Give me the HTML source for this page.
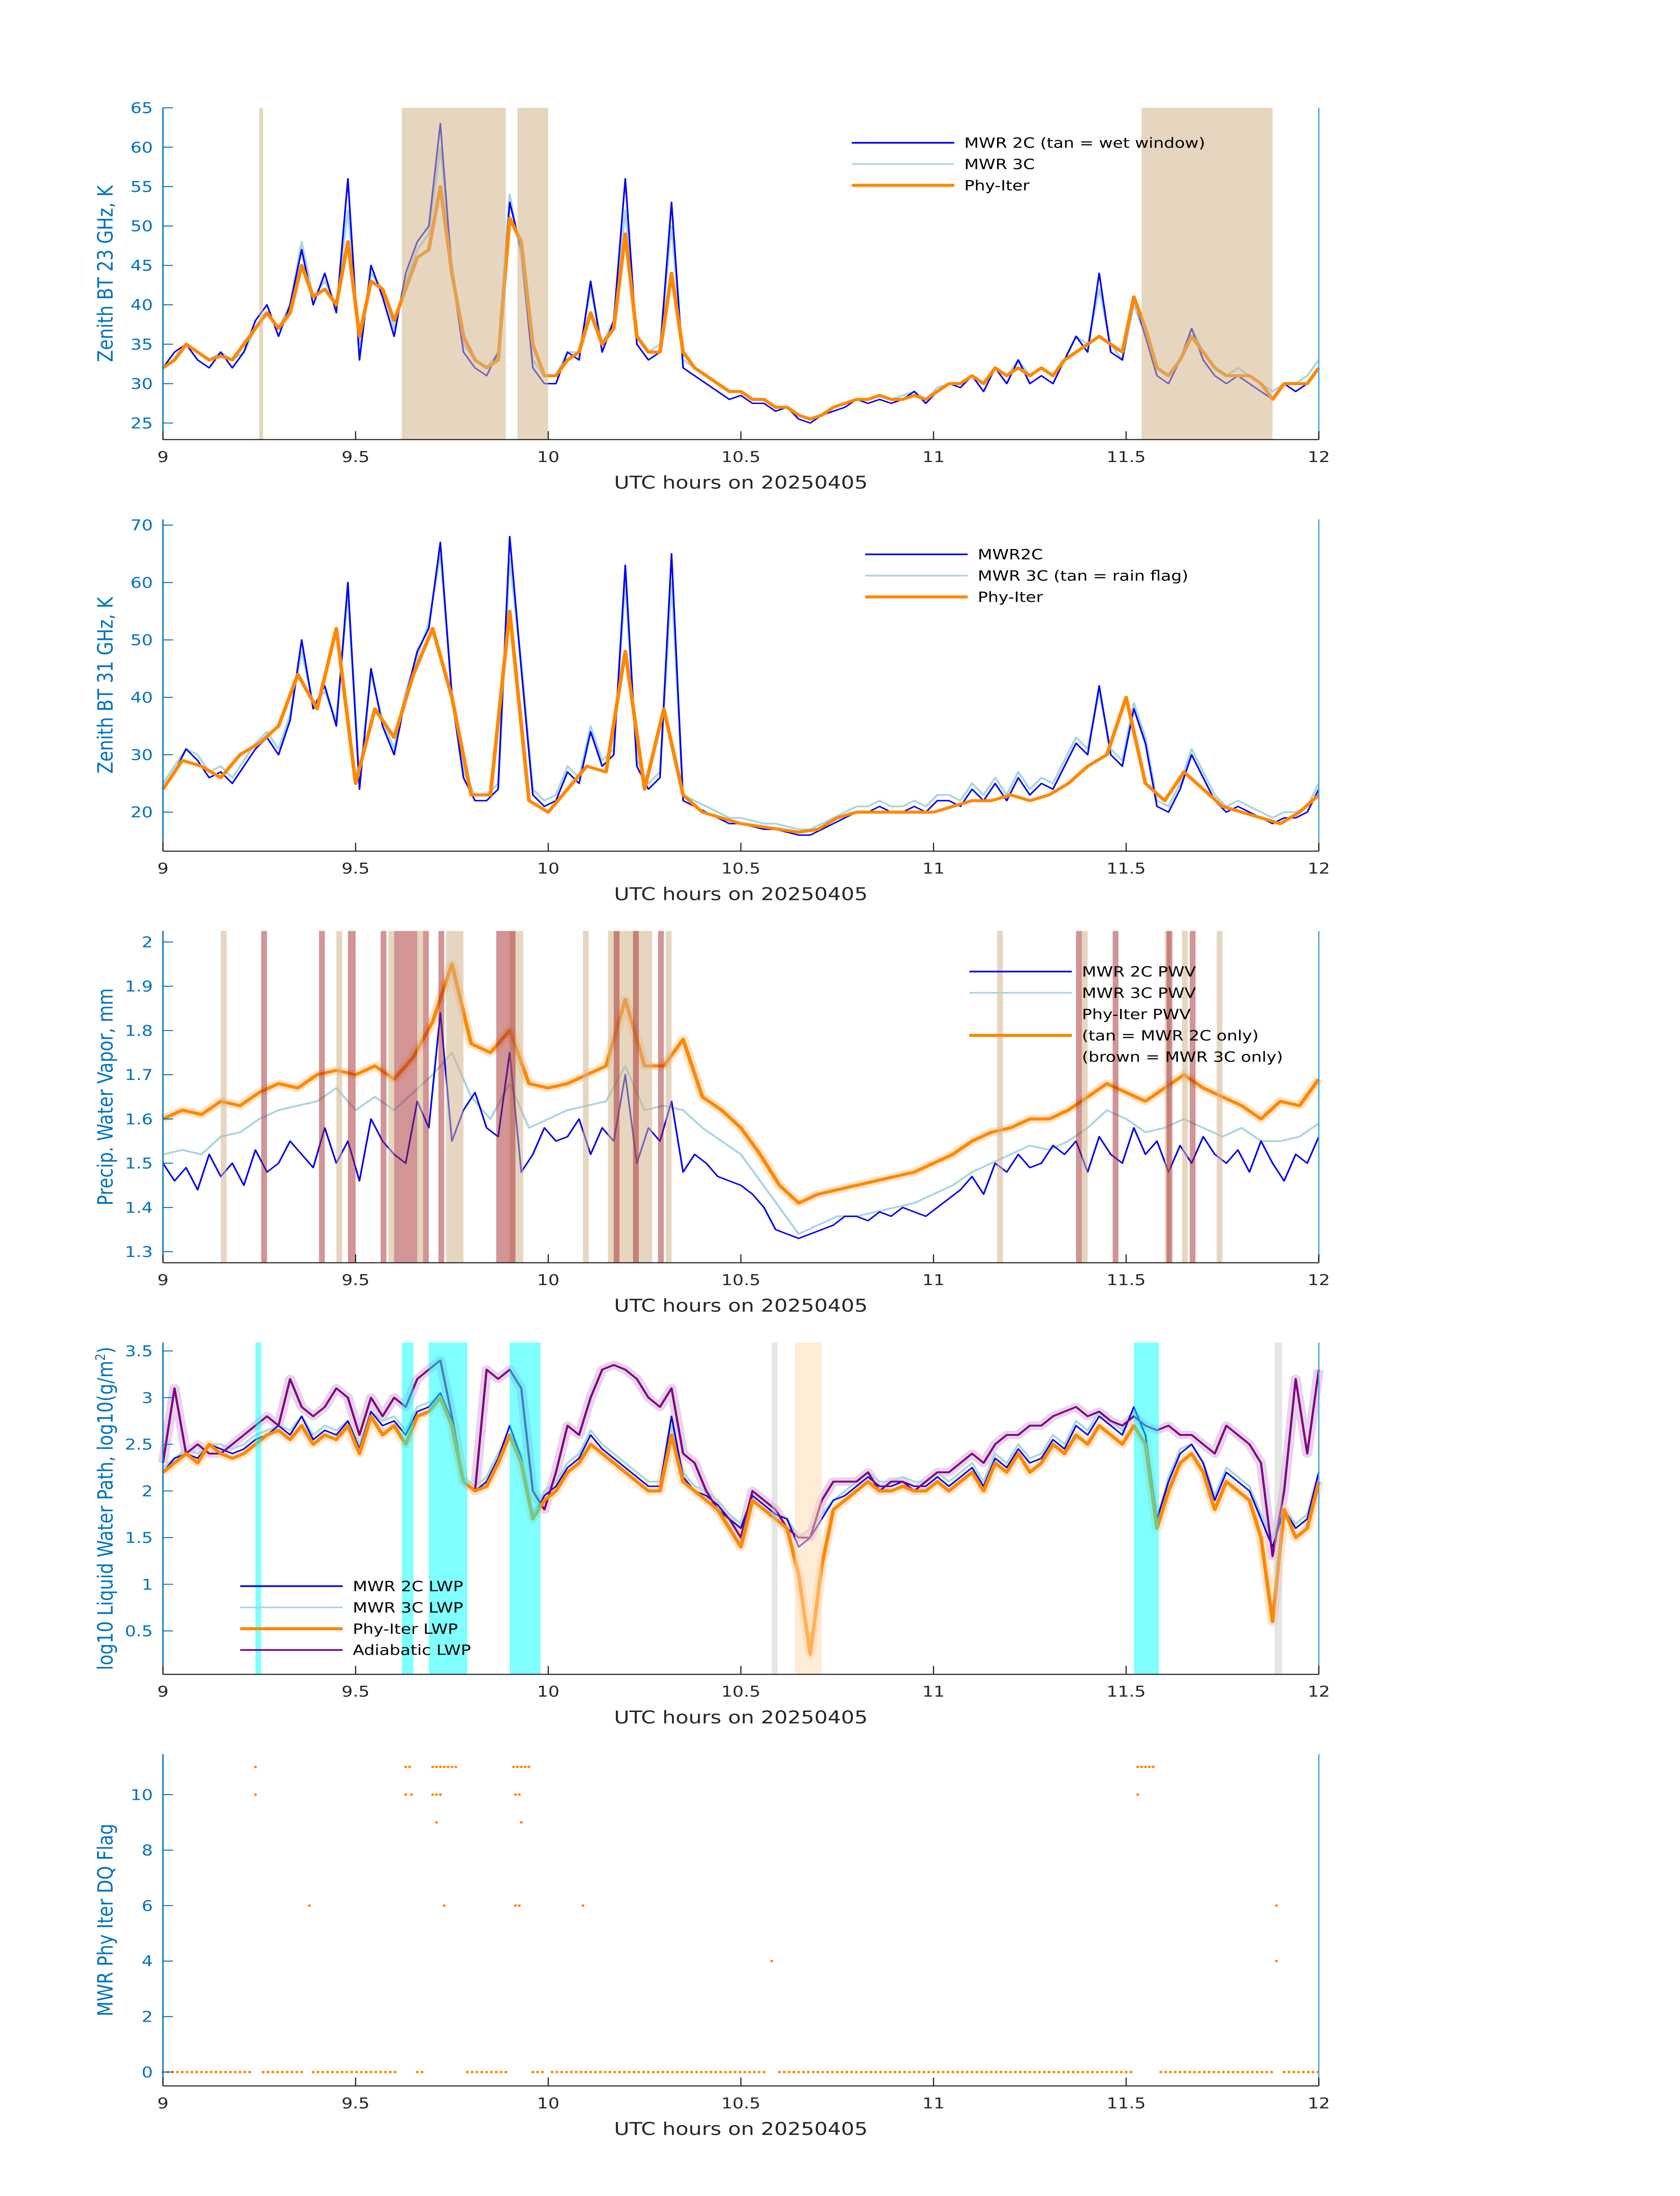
<!DOCTYPE html>
<html><head><meta charset="utf-8"><style>
html,body{margin:0;padding:0;background:#fff;width:100vw;height:100vh;overflow:hidden}
svg{display:block;width:100vw;height:100vh}
text{font-family:"DejaVu Sans","Liberation Sans",sans-serif}
</style></head><body>
<svg id="fig" xmlns="http://www.w3.org/2000/svg" viewBox="0 0 1000 1568.63" preserveAspectRatio="none"></svg>
<script>
// ---------- data ----------
const xTicks=[9,9.5,10,10.5,11,11.5,12];
const xTickLabels=["9","9.5","10","10.5","11","11.5","12"];
// panel 1: BT 23 GHz
const bt23_2c=[32,34,35,33,32,34,32,34,38,40,36,40,47,40,44,39,56,33,45,41,36,44,48,50,63,44,34,32,31,34,53,47,32,30,30,34,33,43,34,38,56,35,33,34,53,32,31,30,29,28,28.5,27.5,27.5,26.5,27,25.5,25,26,26.5,27,28,27.5,28,27.5,28,29,27.5,29,30,29.5,31,29,32,30,33,30,31,30,33,36,34,44,34,33,41,36,31,30,33,37,33,31,30,31,30,29,28,30,29,30,32];
const bt23_3c=[32,33,35,34,33,34,33,34,37,39,37,40,48,41,43,40,52,35,44,42,37,43,47,49,60,45,35,33,32,34,54,46,33,31,31,34,34,42,35,38,52,36,34,35,50,33,32,31,30,29,29,28,28,27,27,26,25.5,26,27,27.5,28,28,28.5,28,28.5,29,28,29.5,30,30,31,30,32,31,33,31,32,31,33,36,35,42,35,33,40,36,32,31,33,37,34,32,31,32,31,30,29,30,30,31,33];
const bt23_phy=[32,33,35,34,33,33.5,33,35,37,39,37,39,45,41,42,40,48,36,43,42,38,42,46,47,55,44,36,33,32,33,51,48,35,31,31,33,34,39,35,37,49,36,34,34,44,34,32,31,30,29,29,28,28,27,27,26,25.5,26,27,27.5,28,28,28.5,28,28,28.5,28,29,30,30,31,30,32,31,32,31,32,31,33,34,35,36,35,34,41,37,32,31,33,36,34,32,31,31,31,30,28,30,30,30,32];
const bt23_wet=[[9.25,9.26],[9.62,9.89],[9.92,10.0],[11.54,11.88]];
const bt23_yTicks=[25,30,35,40,45,50,55,60,65];
// panel 2: BT 31 GHz
const bt31_2c=[24,27,31,29,26,27,25,28,31,33,30,36,50,38,42,35,60,24,45,35,30,40,48,52,67,40,26,22,22,24,68,45,23,21,22,27,25,34,28,30,63,28,24,26,65,22,21,20,19,18,18,17.5,17,17,16.5,16,16,17,18,19,20,20,21,20,20,21,20,22,22,21,24,22,25,22,26,23,25,24,28,32,30,42,30,28,38,32,21,20,24,30,26,22,20,21,20,19,18,19,19,20,24];
const bt31_3c=[25,28,31,30,27,28,26,29,32,34,31,37,48,39,41,36,58,26,44,36,31,41,47,53,65,41,27,23,23,25,64,46,24,22,23,28,26,35,29,31,60,29,25,27,60,23,22,21,20,19,19,18.5,18,18,17.5,17,17,18,19,20,21,21,22,21,21,22,21,23,23,22,25,23,26,23,27,24,26,25,29,33,31,41,31,29,39,33,22,21,25,31,27,23,21,22,21,20,19,20,20,21,25];
const bt31_phy=[24,29,28,26,30,32,35,44,38,52,25,38,33,44,52,40,23,23,55,22,20,24,28,27,48,24,38,23,20,19,18,17.5,17,16.5,17,19,20,20,20,20,20,21,22,22,23,22,23,25,28,30,40,25,22,27,24,21,20,19,18,20,23];
const bt31_yTicks=[20,30,40,50,60,70];
// panel 3: PWV
const pwv_2c=[1.50,1.46,1.49,1.44,1.52,1.47,1.50,1.45,1.53,1.48,1.50,1.55,1.52,1.49,1.58,1.50,1.55,1.46,1.60,1.55,1.52,1.50,1.64,1.58,1.84,1.55,1.62,1.66,1.58,1.56,1.75,1.48,1.52,1.58,1.55,1.56,1.60,1.52,1.58,1.55,1.70,1.50,1.58,1.55,1.64,1.48,1.52,1.50,1.47,1.46,1.45,1.43,1.40,1.35,1.34,1.33,1.34,1.35,1.36,1.38,1.38,1.37,1.39,1.38,1.40,1.39,1.38,1.40,1.42,1.44,1.47,1.43,1.50,1.48,1.52,1.49,1.50,1.54,1.52,1.55,1.48,1.56,1.52,1.50,1.58,1.52,1.55,1.48,1.54,1.50,1.56,1.52,1.50,1.53,1.48,1.55,1.50,1.46,1.52,1.50,1.56];
const pwv_3c=[1.52,1.53,1.52,1.56,1.57,1.60,1.62,1.63,1.64,1.67,1.62,1.65,1.62,1.66,1.70,1.75,1.65,1.60,1.68,1.58,1.60,1.62,1.63,1.64,1.72,1.62,1.63,1.62,1.58,1.55,1.52,1.46,1.40,1.34,1.36,1.38,1.38,1.39,1.40,1.41,1.43,1.45,1.48,1.50,1.52,1.54,1.53,1.55,1.58,1.62,1.60,1.57,1.58,1.60,1.58,1.56,1.58,1.55,1.55,1.56,1.59];
const pwv_phy=[1.60,1.62,1.61,1.64,1.63,1.66,1.68,1.67,1.70,1.71,1.70,1.72,1.69,1.74,1.82,1.95,1.77,1.75,1.80,1.68,1.67,1.68,1.70,1.72,1.87,1.72,1.72,1.78,1.65,1.62,1.58,1.52,1.45,1.41,1.43,1.44,1.45,1.46,1.47,1.48,1.50,1.52,1.55,1.57,1.58,1.60,1.60,1.62,1.65,1.68,1.66,1.64,1.67,1.70,1.67,1.65,1.63,1.60,1.64,1.63,1.69];
const pwv_tan=[[9.15,9.165],[9.45,9.465],[9.585,9.6],[9.66,9.675],[9.735,9.78],[9.9,9.935],[10.09,10.105],[10.155,10.27],[10.305,10.32],[11.165,11.18],[11.385,11.4],[11.6,11.615],[11.645,11.66],[11.735,11.75]];
const pwv_brown=[[9.255,9.27],[9.405,9.42],[9.48,9.5],[9.565,9.58],[9.6,9.66],[9.675,9.69],[9.715,9.73],[9.865,9.915],[10.17,10.185],[10.22,10.235],[10.285,10.3],[11.37,11.385],[11.465,11.48],[11.605,11.62],[11.665,11.68]];
const pwv_yTicks=[1.3,1.4,1.5,1.6,1.7,1.8,1.9,2];
// panel 4: LWP
const lwp_2c=[2.2,2.35,2.4,2.35,2.5,2.45,2.4,2.45,2.55,2.6,2.7,2.6,2.8,2.55,2.65,2.6,2.75,2.45,2.85,2.7,2.75,2.6,2.85,2.9,3.05,2.75,2.1,2.0,2.1,2.35,2.7,2.35,1.7,1.95,2.05,2.25,2.35,2.6,2.45,2.35,2.25,2.15,2.05,2.05,2.8,2.15,2.0,1.95,1.85,1.7,1.6,1.95,1.85,1.75,1.7,1.4,1.5,1.7,1.9,1.95,2.05,2.15,2.05,2.05,2.1,2.05,2.05,2.15,2.05,2.15,2.25,2.05,2.35,2.25,2.45,2.3,2.35,2.55,2.45,2.7,2.6,2.8,2.7,2.6,2.9,2.6,1.7,2.1,2.4,2.5,2.3,1.9,2.2,2.1,2.0,1.7,1.4,1.8,1.6,1.7,2.2];
const lwp_3c=[2.25,2.35,2.45,2.4,2.5,2.5,2.45,2.5,2.6,2.65,2.7,2.65,2.8,2.6,2.7,2.65,2.75,2.5,2.85,2.75,2.8,2.65,2.9,2.95,3.0,2.7,2.15,2.05,2.15,2.4,2.6,2.4,1.75,2.0,2.1,2.3,2.4,2.65,2.5,2.4,2.3,2.2,2.1,2.1,2.7,2.2,2.05,2.0,1.9,1.75,1.65,1.9,1.8,1.75,1.7,1.5,1.6,1.75,1.9,2.0,2.1,2.2,2.1,2.1,2.15,2.1,2.1,2.2,2.1,2.2,2.3,2.1,2.4,2.3,2.5,2.35,2.4,2.6,2.5,2.75,2.65,2.85,2.75,2.65,2.85,2.6,1.65,2.15,2.45,2.5,2.3,1.95,2.25,2.15,2.05,1.75,1.5,1.8,1.65,1.75,2.2];
const lwp_phy=[2.2,2.3,2.4,2.3,2.5,2.4,2.35,2.4,2.5,2.6,2.65,2.55,2.7,2.5,2.6,2.55,2.7,2.4,2.8,2.6,2.7,2.5,2.8,2.85,3.0,2.7,2.1,2.0,2.05,2.3,2.6,2.3,1.7,1.9,2.0,2.2,2.3,2.5,2.4,2.3,2.2,2.1,2.0,2.0,2.6,2.1,2.0,1.9,1.8,1.6,1.4,1.9,1.8,1.7,1.6,1.1,0.25,1.2,1.8,1.9,2.0,2.1,2.0,2.0,2.05,2.0,2.0,2.1,2.0,2.1,2.2,2.0,2.3,2.2,2.4,2.2,2.3,2.5,2.4,2.6,2.5,2.7,2.6,2.5,2.7,2.5,1.6,2.0,2.3,2.4,2.2,1.8,2.1,2.0,1.9,1.5,0.6,1.8,1.5,1.6,2.1];
const lwp_adi=[2.3,3.1,2.4,2.5,2.4,2.4,2.5,2.6,2.7,2.8,2.7,3.2,2.9,2.8,2.9,3.1,3.0,2.6,3.0,2.8,3.0,2.9,3.2,3.3,3.4,2.8,2.1,2.0,3.3,3.2,3.3,3.1,2.0,1.8,2.2,2.7,2.6,3.0,3.3,3.35,3.3,3.2,3.0,2.9,3.1,2.4,2.3,2.0,1.8,1.7,1.5,2.0,1.9,1.8,1.6,1.5,1.5,1.9,2.1,2.1,2.1,2.2,2.0,2.1,2.1,2.0,2.1,2.2,2.2,2.3,2.4,2.3,2.5,2.6,2.6,2.7,2.7,2.8,2.85,2.9,2.8,2.85,2.75,2.7,2.8,2.7,2.65,2.7,2.6,2.6,2.5,2.4,2.7,2.6,2.5,2.3,1.3,2.0,3.2,2.4,3.3];
const lwp_cyan=[[9.24,9.255],[9.62,9.65],[9.69,9.79],[9.9,9.98],[11.52,11.585]];
const lwp_gray=[[10.58,10.595],[11.885,11.905]];
const lwp_tan=[[10.64,10.71]];
const lwp_yTicks=[0.5,1,1.5,2,2.5,3,3.5];
// panel 5: DQ flag
const flagT=[9.24,9.24,9.38,9.63,9.64,9.63,9.645,9.70,9.71,9.72,9.73,9.74,9.75,9.76,9.70,9.71,9.72,9.71,9.73,9.91,9.92,9.93,9.94,9.95,9.915,9.925,9.93,9.915,9.925,10.09,10.58,11.53,11.54,11.55,11.56,11.57,11.53,11.89,11.89];
const flagV=[11,10,6,11,11,10,10,11,11,11,11,11,11,11,10,10,10,9,6,11,11,11,11,11,10,10,9,6,6,6,4,11,11,11,11,11,10,6,4];
const flagZeroSegments=[[9.0,9.23],[9.26,9.37],[9.39,9.61],[9.66,9.68],[9.79,9.89],[9.96,9.99],[10.01,10.57],[10.6,11.52],[11.59,11.88],[11.91,12.0]];
const flag_yTicks=[0,2,4,6,8,10];

// ---------- drawing ----------
const NS="http://www.w3.org/2000/svg";
const svg=document.getElementById('fig');
const X0=97,X1=785,PH=237;
function el(tag,attrs,parent){const e=document.createElementNS(NS,tag);for(const k in attrs)e.setAttribute(k,attrs[k]);(parent||svg).appendChild(e);return e;}
function xs(t){return X0+(t-9)/3*(X1-X0);}
function makeY(top,ymin,ymax){return v=>top+PH-(v-ymin)/(ymax-ymin)*PH;}
function tArr(n){const a=[];for(let i=0;i<n;i++)a.push(9+3*i/(n-1));return a;}
function pathOf(arr,ys){const t=tArr(arr.length);return arr.map((v,i)=>(i?'L':'M')+xs(t[i]).toFixed(2)+' '+ys(v).toFixed(2)).join('');}

function line(g,arr,ys,color,w,name,op){
  const p=el('path',{d:pathOf(arr,ys),fill:'none',stroke:color,'stroke-width':w,'stroke-linejoin':'round','stroke-opacity':op||1},g);
  
  
  return p;
}
function bands(g,list,top,color,op,name){
  list.forEach(b=>{
    const r=el('rect',{x:xs(b[0]),y:top,width:Math.max(1.2,xs(b[1])-xs(b[0])),height:PH,fill:color,'fill-opacity':op},g);
    
    
  });
}
function axes(g,top,ys,yTicks,yFmt,ylabel,pname){
  const ax=el('g',{},g);
  
  
  el('line',{x1:X0,y1:top+PH,x2:X1,y2:top+PH,stroke:'#262626','stroke-width':0.8},ax);
  el('line',{x1:X0,y1:top,x2:X0,y2:top+PH,stroke:'#0072BD','stroke-width':0.8},ax);
  el('line',{x1:X1,y1:top,x2:X1,y2:top+PH,stroke:'#4DA6E0','stroke-width':0.8},ax);
  xTicks.forEach((t,i)=>{
    el('line',{x1:xs(t),y1:top+PH,x2:xs(t),y2:top+PH-6,stroke:'#262626','stroke-width':0.7},ax);
    const tx=el('text',{x:xs(t),y:top+PH+16,'font-size':10.5,'text-anchor':'middle',fill:'#262626'},ax);
    tx.textContent=xTickLabels[i];
    
    
  });
  yTicks.forEach(v=>{
    el('line',{x1:X0,y1:ys(v),x2:X0+6,y2:ys(v),stroke:'#0072BD','stroke-width':0.7},ax);
    const tx=el('text',{x:X0-6,y:ys(v)+3.8,'font-size':10.5,'text-anchor':'end',fill:'#0072BD'},ax);
    tx.textContent=yFmt(v);
    
    
  });
  const xl=el('text',{x:441,y:top+PH+35,'font-size':12.5,'text-anchor':'middle',fill:'#262626'},ax);
  xl.textContent='UTC hours on 20250405';
  
  
  const cy=top+PH/2;
  const yl=el('text',{x:67,y:cy,'font-size':12.5,'text-anchor':'middle',fill:'#0072BD',transform:`rotate(-90 67 ${cy})`},ax);
  yl.innerHTML=ylabel;
  
  
}
function legend(g,x,y0,items,pname){
  const lg=el('g',{},g);
  
  
  items.forEach((it,i)=>{
    const y=y0+i*15.2;
    if(it.c) el('line',{x1:x,y1:y,x2:x+61,y2:y,stroke:it.c,'stroke-width':it.w},lg);
    const t=el('text',{x:x+67,y:y+3.6,'font-size':10,fill:'#000'},lg);
    t.textContent=it.t;
    
    
  });
}
function panel(name,top){const g=el('g',{});   return g;}
const BLUE='#0000F0',LB='#A8D5E2',OR='#FF8800',PU='#800080';

// Panel 1
{const top=77,ys=makeY(top,22.9,65),g=panel('bt23-panel',top);
 line(g,bt23_3c,ys,LB,1.3,'mwr3c-bt23-line');
 line(g,bt23_2c,ys,BLUE,1,'mwr2c-bt23-line');
 line(g,bt23_phy,ys,OR,2.2,'phyiter-bt23-line');
 bands(g,bt23_wet,top,'#D2B48C',0.55,'wet-window-band');
 axes(g,top,ys,bt23_yTicks,v=>String(v),'Zenith BT 23 GHz, K','bt23');
 legend(g,507,102,[{c:BLUE,w:1.2,t:'MWR 2C (tan = wet window)'},{c:LB,w:1.2,t:'MWR 3C'},{c:OR,w:2.2,t:'Phy-Iter'}],'bt23');}
// Panel 2
{const top=371,ys=makeY(top,13.2,71),g=panel('bt31-panel',top);
 line(g,bt31_3c,ys,LB,1.3,'mwr3c-bt31-line');
 line(g,bt31_2c,ys,BLUE,1,'mwr2c-bt31-line');
 line(g,bt31_phy,ys,OR,2.2,'phyiter-bt31-line');
 axes(g,top,ys,bt31_yTicks,v=>String(v),'Zenith BT 31 GHz, K','bt31');
 legend(g,515,396,[{c:BLUE,w:1.2,t:'MWR2C'},{c:LB,w:1.2,t:'MWR 3C (tan = rain flag)'},{c:OR,w:2.2,t:'Phy-Iter'}],'bt31');}
// Panel 3
{const top=665,ys=makeY(top,1.275,2.025),g=panel('pwv-panel',top);
 line(g,pwv_phy,ys,'#FFD9B0',6,'phyiter-pwv-uncertainty',0.7);
 line(g,pwv_3c,ys,LB,1.3,'mwr3c-pwv-line');
 line(g,pwv_2c,ys,BLUE,1,'mwr2c-pwv-line');
 line(g,pwv_phy,ys,OR,2.2,'phyiter-pwv-line');
 bands(g,pwv_tan,top,'#D2B48C',0.55,'mwr2c-only-band');
 bands(g,pwv_brown,top,'#A52A2A',0.5,'mwr3c-only-band');
 axes(g,top,ys,pwv_yTicks,v=>String(v),'Precip. Water Vapor, mm','pwv');
 legend(g,577,694,[{c:BLUE,w:1.2,t:'MWR 2C PWV'},{c:LB,w:1.2,t:'MWR 3C PWV'},{c:null,t:'Phy-Iter PWV'},{c:OR,w:2.2,t:'(tan = MWR 2C only)'},{c:null,t:'(brown = MWR 3C only)'}],'pwv');}
// Panel 4
{const top=959,ys=makeY(top,0.035,3.59),g=panel('lwp-panel',top);
 line(g,lwp_adi,ys,'#E2C8E6',6,'adiabatic-lwp-uncertainty',0.8);
 line(g,lwp_phy,ys,'#FFDDB8',6,'phyiter-lwp-uncertainty',0.7);
 line(g,lwp_3c,ys,LB,1.3,'mwr3c-lwp-line');
 line(g,lwp_2c,ys,BLUE,1,'mwr2c-lwp-line');
 line(g,lwp_adi,ys,PU,1.3,'adiabatic-lwp-line');
 line(g,lwp_phy,ys,OR,2.2,'phyiter-lwp-line');
 bands(g,lwp_cyan,top,'#00FFFF',0.5,'cyan-flag-band');
 bands(g,lwp_gray,top,'#C8C8C8',0.45,'gray-flag-band');
 bands(g,lwp_tan,top,'#FFD9B0',0.5,'tan-flag-band');
 axes(g,top,ys,lwp_yTicks,v=>String(v),'log10 Liquid Water Path, log10(g/m<tspan baseline-shift="super" font-size="8">2</tspan>)','lwp');
 legend(g,143,1133,[{c:BLUE,w:1.2,t:'MWR 2C LWP'},{c:LB,w:1.2,t:'MWR 3C LWP'},{c:OR,w:2.2,t:'Phy-Iter LWP'},{c:PU,w:1.2,t:'Adiabatic LWP'}],'lwp');}
// Panel 5
{const top=1253,ys=makeY(top,-0.5,11.46),g=panel('dq-flag-panel',top);
 flagZeroSegments.forEach(s=>{for(let t=s[0];t<=s[1]+1e-9;t+=0.0125){
   const c=el('circle',{cx:xs(t),cy:ys(0),r:0.9,fill:OR},g);
   
   }});
 flagT.forEach((t,i)=>{
   const c=el('circle',{cx:xs(t),cy:ys(flagV[i]),r:0.9,fill:OR},g);
   
   });
 axes(g,top,ys,flag_yTicks,v=>String(v),'MWR Phy Iter DQ Flag','dq');}
</script>
</body></html>
